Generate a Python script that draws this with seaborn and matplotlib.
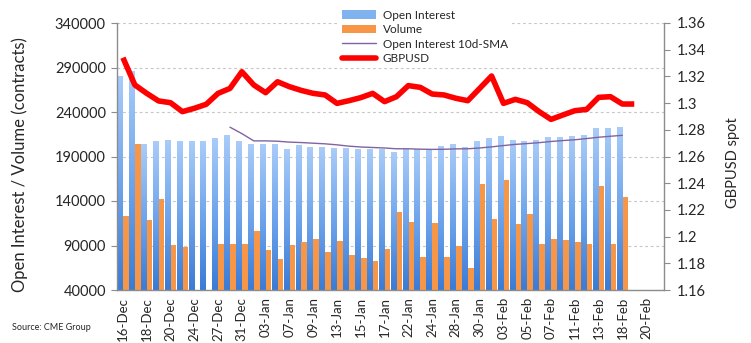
import numpy as np
import pandas as pd
import matplotlib
matplotlib.use("Agg")
import matplotlib.pyplot as plt
from matplotlib.colors import LinearSegmentedColormap
from matplotlib.patches import Patch
from matplotlib.lines import Line2D
import seaborn as sns

# ---------------- data ----------------
dates = ["16-Dec", "17-Dec", "18-Dec", "19-Dec", "20-Dec", "23-Dec", "24-Dec", "26-Dec", "27-Dec", "30-Dec",
         "31-Dec", "02-Jan", "03-Jan", "06-Jan", "07-Jan", "08-Jan", "09-Jan", "10-Jan", "13-Jan", "14-Jan",
         "15-Jan", "16-Jan", "17-Jan", "21-Jan", "22-Jan", "23-Jan", "24-Jan", "27-Jan", "28-Jan", "29-Jan",
         "30-Jan", "31-Jan", "03-Feb", "04-Feb", "05-Feb", "06-Feb", "07-Feb", "10-Feb", "11-Feb", "12-Feb",
         "13-Feb", "14-Feb", "18-Feb", "19-Feb", "20-Feb", "21-Feb"]

open_interest = [279800, 285100, 203500, 207300, 208000, 207300, 207300, 207300, 210300, 213700,
                 207300, 203500, 203500, 203500, 197900, 202400, 200100, 200100, 199000, 199000,
                 197900, 197900, 197900, 194500, 197900, 197900, 197900, 201300, 203500, 200100,
                 206900, 210300, 212500, 208000, 206900, 208000, 211400, 211400, 212500, 213700,
                 221600, 221600, 222700, np.nan, np.nan, np.nan]

volume = [122700, 204600, 119000, 142600, 90700, 88500, np.nan, np.nan, 91900, 91900,
          91900, 105800, 85100, 75000, 90700, 94100, 97500, 82900, 95300, 79500,
          76100, 72700, 86300, 128000, 116700, 77200, 115600, 77200, 89600, 64800,
          159500, 120100, 164000, 114400, 125700, 91900, 97500, 96400, 94100, 91900,
          157300, 91900, 144900, np.nan, np.nan, np.nan]

oi_sma10 = [np.nan] * 9 + [
    222960, 215710, 207550, 207550, 207170, 206160, 205670, 204950, 204230, 203100,
    201630, 200690, 200130, 199570, 198670, 198670, 198220, 198000, 198120, 198570,
    198680, 199580, 200820, 202280, 203630, 204530, 205540, 206890, 207900, 208800,
    210160, 211630, 212760, 213780] + [np.nan] * 3

gbpusd = [1.3340, 1.3136, 1.3073, 1.3016, 1.3003, 1.2936, 1.2961, 1.2991, 1.3073, 1.3110,
          1.3235, 1.3136, 1.3078, 1.3160, 1.3123, 1.3095, 1.3073, 1.3061, 1.2998, 1.3018,
          1.3041, 1.3073, 1.3011, 1.3048, 1.3131, 1.3118, 1.3068, 1.3061, 1.3036, 1.3018,
          1.3110, 1.3203, 1.2998, 1.3028, 1.3003, 1.2936, 1.2878, 1.2911, 1.2943, 1.2953,
          1.3043, 1.3048, 1.2993, 1.2993, np.nan, np.nan]

left_ticks = [40000, 90000, 140000, 190000, 240000, 290000, 340000]
right_ticks = [1.16, 1.18, 1.20, 1.22, 1.24, 1.26, 1.28, 1.30, 1.32, 1.34, 1.36]

# ---------------- frame ----------------
pos = list(range(len(dates)))
df = pd.DataFrame({"pos": pos, "date": dates, "Open Interest": open_interest,
                   "Volume": volume, "SMA": oi_sma10, "GBPUSD": gbpusd})
long = df.melt(id_vars=["pos", "date"], value_vars=["Open Interest", "Volume"],
               var_name="series", value_name="contracts")

sns.set_theme(style="white")
plt.rcParams["font.family"] = ["Lato", "DejaVu Sans"]

W, H = 751, 343
fig = plt.figure(figsize=(W / 100, H / 100), dpi=100)
L, R, T, B = 117, 664, 23, 290
ax = fig.add_axes([L / W, 1 - B / H, (R - L) / W, (B - T) / H])

BLUE = "#6FA5EA"
ORANGE = "#F79646"
PURPLE = "#8064A2"
RED = "#FF0000"
GREY = "#8C8C8C"

sns.barplot(data=long, x="pos", y="contracts", hue="series", order=pos,
            hue_order=["Open Interest", "Volume"],
            palette={"Open Interest": BLUE, "Volume": ORANGE},
            width=1.0, gap=0.06, errorbar=None, legend=False, saturation=1,
            linewidth=0, zorder=2, ax=ax)

# gradient fill for open-interest bars
ax.set_ylim(left_ticks[0], left_ticks[-1])
cmap = LinearSegmentedColormap.from_list("oi", ["#3A7BD5", "#6FA5EC", "#A9CCF9"])
grad = np.linspace(0, 1, 256).reshape(-1, 1)
ylo = ax.get_ylim()[0]
for bar in ax.containers[0]:
    x0, w = bar.get_x(), bar.get_width()
    top = bar.get_y() + bar.get_height()
    im = ax.imshow(grad, extent=[x0, x0 + w, ylo, top], origin="lower", aspect="auto",
                   cmap=cmap, zorder=1.9, interpolation="bilinear")
    bar.set_facecolor("none")

sns.lineplot(data=df, x="pos", y="SMA", color=PURPLE, lw=1.0, ax=ax, zorder=3)

ax.set_xlim(-0.5, len(dates) - 0.5)
ax.set_ylim(left_ticks[0], left_ticks[-1])
ax.set_yticks(left_ticks)
ax.set_yticklabels([str(v) for v in left_ticks], fontsize=10.5)
ax.set_xticks(pos[::2])
ax.set_xticklabels(dates[::2], rotation=90, fontsize=9.5)
ax.set_xticks(np.arange(len(dates) + 1) - 0.5, minor=True)
ax.tick_params(axis="x", which="major", length=0, pad=5)
ax.tick_params(axis="x", which="minor", length=4, color=GREY, width=0.8, direction="out")
ax.tick_params(axis="y", length=4, color=GREY, width=0.8, direction="out", pad=4, left=True)
ax.set_xlabel("")
ax.set_ylabel("")
ax.set_axisbelow(True)
ax.yaxis.grid(True, linestyle=(0, (2.5, 2.5)), color="#C6C6C6", lw=0.8)
ax.xaxis.grid(False)
for s in ["top", "right"]:
    ax.spines[s].set_visible(False)
for s in ["left", "bottom"]:
    ax.spines[s].set_color(GREY)
    ax.spines[s].set_linewidth(1.0)

# ---------------- right axis ----------------
ax2 = ax.twinx()
sns.lineplot(data=df, x="pos", y="GBPUSD", color=RED, lw=4.0, ax=ax2,
             solid_capstyle="butt", solid_joinstyle="round")
ax2.set_ylim(right_ticks[0], right_ticks[-1])
ax2.set_yticks(right_ticks)
ax2.set_yticklabels([f"{v:.2f}".rstrip("0").rstrip(".") for v in right_ticks], fontsize=10.5)
ax2.tick_params(axis="y", length=4, color=GREY, width=0.8, direction="out", pad=5, right=True)
ax2.set_ylabel("")
ax2.set_xlabel("")
ax2.grid(False)
for s in ["top", "left", "bottom"]:
    ax2.spines[s].set_visible(False)
ax2.spines["right"].set_color(GREY)
ax2.spines["right"].set_linewidth(1.0)
ax.set_xlim(-0.5, len(dates) - 0.5)

# ---------------- labels ----------------
fig.text(20 / W, 1 - 165 / H, "Open Interest / Volume (contracts)", rotation=90,
         ha="center", va="center", fontsize=12)
fig.text(733 / W, 1 - 163 / H, "GBPUSD spot", rotation=90,
         ha="center", va="center", fontsize=10.5)
fig.text(12 / W, 1 - 327 / H, "Source: CME Group", ha="left", va="center", fontsize=6.5)

handles = [Patch(facecolor="#80B2F0", edgecolor="none"),
           Patch(facecolor=ORANGE, edgecolor="none"),
           Line2D([], [], color=PURPLE, lw=1.0),
           Line2D([], [], color=RED, lw=4.0)]
labels = ["Open Interest", "Volume", "Open Interest 10d-SMA", "GBPUSD"]
leg = ax2.legend(handles, labels, loc="upper left", bbox_to_anchor=(338 / W, 1 - 6 / H),
                 bbox_transform=fig.transFigure, fontsize=8.5, frameon=True,
                 facecolor="white", edgecolor="none", framealpha=1, fancybox=False,
                 handlelength=2.9, handleheight=0.7, handletextpad=0.6,
                 labelspacing=0.3, borderpad=0.3, borderaxespad=0)

fig.savefig("out.png", dpi=100)
